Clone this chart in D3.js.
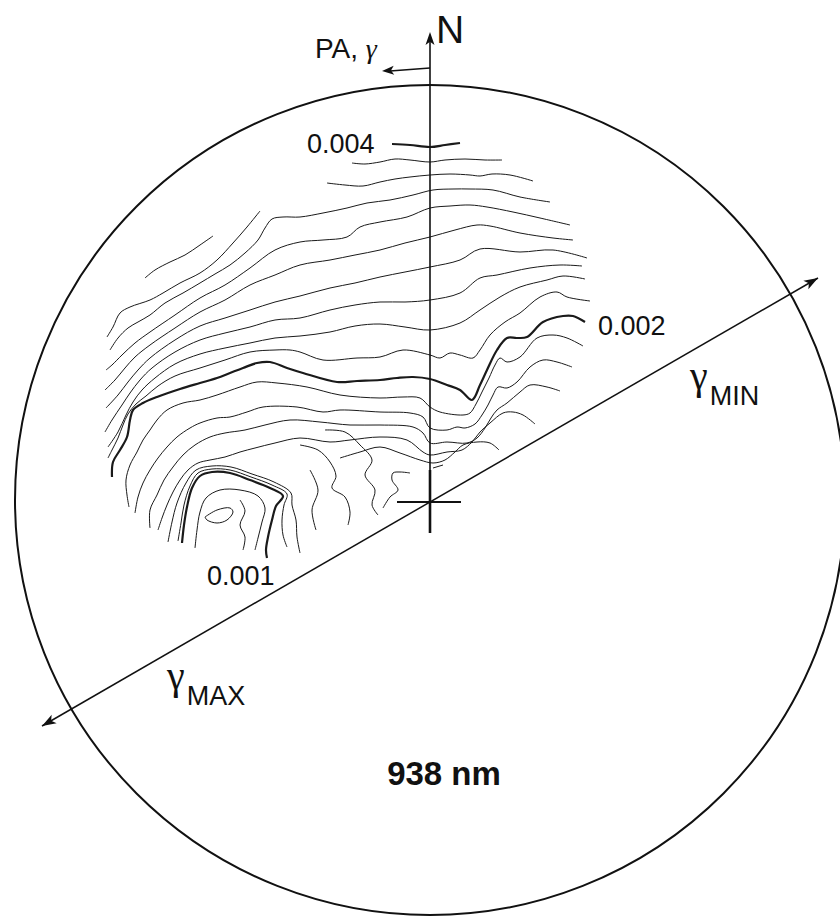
<!DOCTYPE html>
<html><head><meta charset="utf-8">
<script src="https://cdn.jsdelivr.net/npm/d3@7"></script>
<style>body{margin:0;background:#fff}svg{display:block}</style>
</head><body><div id="chart"></div>
<script>
// Polarization degree map around the star at 938 nm.
// Offsets from the star: dx (west +), dy (north +), in field units; field radius 41.5.
const fieldRadius = 41.5;
const fieldCenter = [0, 0.2];
const gammaAxisAngle = 30;      // degrees above the east-west line
const gammaAxisHalf = 44.8;
const labelledLevels = [0.001, 0.002, 0.004];
const wavelengthLabel = "938 nm";

// contour lines: level + polyline vertices [dx, dy]
const lvl004 = [[-3.8,35.8],[-2,35.7],[0,35.5],[1.5,35.7],[3,35.9]];
const lvl0038a = [[-7.8,33.9],[-6.5,33.8],[-5,34],[-3.5,34.3],[-2,34.2],[0,34],[1.5,34.2],[3.5,34.3],[5.5,34.2],[7.2,34.2]];
const lvl0038b = [[-21.7,26.6],[-23,25.7],[-24.5,24.7],[-26,24],[-27.5,23.2],[-28.5,22.4]];
const lvl0036a = [[-10.3,31.9],[-8.5,31.7],[-6.7,31.6],[-5,32],[-3.5,32.3],[-2,32.5],[0,32.7],[2,32.8],[4,32.7],[5,32.6],[6.2,32.8],[8,32.7],[10.3,32.1]];
const lvl0036b = [[-17,29.1],[-18.3,27.5],[-19.7,25.9],[-21.3,24.2],[-23,22.9],[-25,21.9],[-26.7,20.9],[-28,20.2],[-30,19.5],[-31,18.9],[-31.7,17.5],[-32.3,16.5]];
const lvl0034 = [[12,30],[9,30.5],[6.3,31.2],[4,31.3],[2.3,31.3],[0.3,31.2],[-1.7,30.7],[-4,30.2],[-6.3,29.9],[-8.3,29.4],[-10.7,28.9],[-13,28.5],[-14.7,28.5],[-15.8,28.3],[-16.5,27.4],[-17.2,26.2],[-18.5,24.9],[-20,23.7],[-21.5,22.8],[-23,21.9],[-24.7,20.9],[-26.5,19.9],[-28,18.7],[-29.2,18],[-30.2,17.4],[-31.2,16.4],[-32,15.2]];
const lvl0032 = [[14,27.7],[11,28.4],[8.3,29],[5.7,29.5],[4,29.7],[2,29.6],[0,29.4],[-2.3,28.5],[-5,28],[-7,27.5],[-8.3,26.5],[-10.7,26.2],[-13,26],[-15.5,25.2],[-18,23.4],[-20.5,21.7],[-23,20.4],[-25.5,18.7],[-28,17],[-29.5,15.9],[-30.8,14.7],[-31.8,13.7],[-32.4,13.2]];
const lvl0030 = [[14.3,26.2],[12.3,26.4],[9,26.9],[6,27.6],[4.7,27.7],[2.5,27.2],[0,26.5],[-2.5,25.9],[-5,25.2],[-7.5,24.7],[-10,24.2],[-13,23.7],[-15.5,22.7],[-18,21.7],[-20.5,20.2],[-23,19],[-25.5,17.4],[-28,15.7],[-29.5,14.5],[-30.5,13.4],[-31.5,12.2],[-32.5,11.2]];
const lvl0028 = [[15.7,24.4],[12.3,25.2],[9,25],[5,25.3],[3,24.2],[0,23.5],[-2.5,23],[-5,22.5],[-7.5,21.9],[-10,21.4],[-13,20.6],[-15.5,20],[-18,19.2],[-20.5,18.4],[-23,17.6],[-25.5,16.2],[-28,14.4],[-29.2,13.2],[-30.2,12],[-31.2,10.7],[-32.4,9.4]];
const lvl0026 = [[15.2,23.6],[13,23.7],[10,23.4],[6.7,22.7],[5,22.4],[3,20.9],[0,20.2],[-2.5,20],[-5,20],[-7.5,19.7],[-10,19.2],[-13,18.4],[-15.5,18.2],[-18,17.5],[-20.5,16.9],[-23,16.2],[-25.5,15],[-27.8,13.4],[-29,12.2],[-30,10.9],[-30.8,9.7],[-31.8,8.2],[-32.5,7]];
const lvl0024 = [[15.5,22.3],[13.3,22.6],[11.7,22.2],[9,21.5],[7,20.5],[5,19.2],[3,17.9],[0,17.2],[-2.5,17.5],[-5,17.8],[-7.5,17.6],[-10,17],[-13,16.6],[-15.5,16.4],[-18,15.9],[-20.5,15.4],[-23,14.8],[-25.5,13.8],[-27.5,12.4],[-28.8,11.2],[-29.7,10],[-30.4,8.7],[-31.2,7],[-32.2,5.5]];
const lvl0022 = [[16,20.1],[13.7,20.5],[12.7,21],[11,20.5],[9,18.9],[7.5,18],[6,16.7],[5,15.2],[4.3,14.4],[3,14.7],[2,14.9],[1,14.4],[0,14.7],[-2.7,15.2],[-5,14.5],[-7.3,14.4],[-10.7,14.2],[-13,15],[-14,15.2],[-15.5,15.2],[-18,15],[-20.5,14.2],[-23,13.4],[-25.5,12.6],[-27.2,11.6],[-28.4,10.6],[-29.4,9.8],[-30.2,8.8],[-30.7,7.7],[-31.2,6.4],[-31.8,5.2],[-32.2,4.4]];
const lvl002 = [[15.5,18],[14.3,18.6],[13.3,18.6],[11.3,18],[9.7,16.5],[8.7,16.4],[7.7,16.4],[6.7,15.2],[5.7,13.2],[5,11.7],[4.2,10.2],[3,11.2],[1.7,11.7],[0,12.3],[-1.7,12.5],[-3.3,12.4],[-5,12.2],[-7.3,12.1],[-9.3,12],[-12.7,12.9],[-14.3,13.4],[-16,14],[-17.3,13.9],[-18.7,13.4],[-20,12.9],[-21.3,12.4],[-23,11.9],[-25,11.3],[-27.3,10.5],[-28.7,9.9],[-29.7,9.2],[-30,8.2],[-30.3,6.5],[-31,5.2],[-31.7,4],[-31.8,2.5]];
const lvl0019 = [[15.3,15.6],[13.7,16.4],[12.3,16.7],[10.7,16.4],[9,14.5],[7.7,14],[7,14.4],[6.5,13.7],[5.9,12.4],[5.2,11],[4.6,9.8],[4,8.9],[3.3,8.7],[1,9],[0,9.5],[-1,10.4],[-2.7,10.5],[-5,10.4],[-9,10.7],[-12.3,11.5],[-15.3,11.9],[-17.3,12],[-19,11.5],[-21.3,10.7],[-23,10.2],[-24.7,9.9],[-26.3,9.2],[-27.3,8.2],[-28,7.2],[-28.7,6.2],[-29.3,5],[-30,3.7],[-30.4,2.2],[-30.3,0.7],[-30.1,-0.5]];
const lvl0018 = [[14.2,13.5],[12.7,14],[11.3,14.2],[10,13.5],[8.7,12],[7.7,11.4],[6.8,11.5],[6.3,10.7],[5.8,9.7],[5.2,8.7],[4.5,7.8],[3.5,7.4],[2.7,7.5],[1.7,7.2],[0,7.4],[-0.7,8.5],[-2,8.9],[-5,9],[-9,9.2],[-10.7,9],[-13.3,9.5],[-16.7,9.5],[-18.3,9],[-20,8.5],[-21.3,8.4],[-23,7.9],[-24,7.4],[-25.3,6.5],[-26.3,5.5],[-27.2,4.4],[-28,3.2],[-28.7,1.9],[-29.2,0.5],[-29.5,-1.1]];
const lvl0017 = [[13,11.1],[11.7,11.5],[10,11.7],[9,11],[7.7,9.9],[6.7,9.2],[6.1,8.4],[5.5,7.4],[4.7,6.4],[3.7,5.9],[1.7,6],[0,5.9],[-0.7,6.9],[-1.7,7.5],[-5,7.7],[-8,7.7],[-11,8],[-14,8.2],[-16.5,7.7],[-18.5,7.2],[-20.5,6.9],[-22,6.5],[-23.5,5.7],[-24.7,4.7],[-25.7,3.5],[-26.6,2.2],[-27.3,0.7],[-28,-0.8],[-28,-2.6]];
const lvl0016 = [[10.5,7.8],[9.3,8.7],[8.3,9],[7.3,8.9],[6,7.9],[5,7],[4.2,6],[3.2,5.2],[1.7,5],[0,4.7],[-0.7,5],[-2.3,6.2],[-5,6.5],[-8,6.2],[-10,6],[-13,6.4],[-15.5,5.9],[-17.5,5.4],[-19,5],[-20.5,4.5],[-22,4.2],[-23.2,3.9],[-24.2,3.2],[-25,2.2],[-25.7,1],[-26.3,-0.3],[-26.8,-1.6],[-27.2,-2.8]];
const lvl0015 = [[6.9,5.2],[6,5.9],[4.7,6],[3.3,5.7],[2.5,5],[1.5,4.2],[0.3,3.9],[-1,4.2],[-3,4.9],[-5,5.5],[-7,5],[-9,4.4]];
const lvl0014a = [[-13,5.7],[-11.2,5.2],[-10,4],[-9.4,2.6],[-9.8,1.4],[-8.5,0.5],[-8,-1],[-8.2,-2.3]];
const lvl0014b = [[-10.5,7.2],[-8.5,7],[-7,5.7],[-5.8,4.2],[-6.5,2.7],[-5.5,1.2],[-5.8,-0.3],[-5.2,-1.3]];
const lvl0014c = [[-2,2.9],[-3,3],[-3.7,2.9],[-3.8,2.2],[-3.2,1.2],[-4,0.5],[-4.7,-0.6]];
const lvl0014d = [[0.3,3.4],[1.3,3.7]];
const lvl0013 = [[-12,3.2],[-11.2,1.2],[-11.8,-0.8],[-11.4,-2.8]];
const lvl0012 = [[-26.2,-4],[-25.8,-2],[-25.3,-0.1],[-24.4,1.9],[-23.4,3.2],[-21.8,3.6],[-19.9,3.5],[-17.8,2.8],[-15.6,2],[-13.9,0.9],[-13.8,-0.3],[-13.4,-1.8],[-13.3,-3.5],[-13,-5.1]];
const lvl0011 = [[-25.2,-3.9],[-24.9,-2.1],[-24.6,-0.3],[-24,1.6],[-23.2,2.9],[-21.8,3.3],[-20,3.2],[-17.9,2.5],[-15.8,1.7],[-14.3,0.8],[-14.6,-0.3],[-14.8,-1.8],[-14.7,-3.3],[-14.3,-4.5]];
const lvl001 = [[-24.8,-4.1],[-24.6,-2.3],[-24.3,-0.5],[-23.8,1.4],[-23,2.6],[-21.8,3],[-20,2.9],[-18,2.2],[-16,1.4],[-14.7,0.6],[-15.4,-0.4],[-15.8,-1.8],[-16.2,-3.5],[-16.4,-4.8],[-16.3,-5.6]];
const lvl0009 = [[-23.5,-4.6],[-23.3,-2.8],[-23,-1],[-22.4,0.4],[-21,1.2],[-19,1.2],[-17.2,0.6],[-16.5,-0.6],[-16.8,-2],[-17.2,-3.6],[-17.5,-4.8]];
const lvl0008a = [[-22.5,-1.5],[-21.3,-0.8],[-20,-0.6],[-19.7,-1],[-20.3,-1.8],[-21.3,-2.1],[-22.3,-1.8],[-22.5,-1.5]];
const lvl0008b = [[-19,0.2],[-18.5,-0.9],[-19,-2.3],[-18.5,-3.5],[-18.7,-4.8]];

const contours = [
  {level: 0.004, pts: lvl004}, {level: 0.0038, pts: lvl0038a}, {level: 0.0038, pts: lvl0038b},
  {level: 0.0036, pts: lvl0036a}, {level: 0.0036, pts: lvl0036b}, {level: 0.0034, pts: lvl0034},
  {level: 0.0032, pts: lvl0032}, {level: 0.003, pts: lvl0030}, {level: 0.0028, pts: lvl0028},
  {level: 0.0026, pts: lvl0026}, {level: 0.0024, pts: lvl0024}, {level: 0.0022, pts: lvl0022},
  {level: 0.002, pts: lvl002}, {level: 0.0019, pts: lvl0019}, {level: 0.0018, pts: lvl0018},
  {level: 0.0017, pts: lvl0017}, {level: 0.0016, pts: lvl0016}, {level: 0.0015, pts: lvl0015},
  {level: 0.0014, pts: lvl0014a}, {level: 0.0014, pts: lvl0014b}, {level: 0.0014, pts: lvl0014c},
  {level: 0.0014, pts: lvl0014d}, {level: 0.0013, pts: lvl0013}, {level: 0.0012, pts: lvl0012},
  {level: 0.0011, pts: lvl0011}, {level: 0.001, pts: lvl001}, {level: 0.0009, pts: lvl0009},
  {level: 0.0008, pts: lvl0008a}, {level: 0.0008, pts: lvl0008b}
];
// level labels, anchored at field offsets
const levelLabels = [
  {text: "0.004", at: [-12.3, 34.9]},
  {text: "0.002", at: [16.8, 16.7]},
  {text: "0.001", at: [-22.3, -8.3]}
];

const W = 840, H = 916;
const x = d3.scaleLinear().domain([-43, 41]).range([0, W]);
const y = d3.scaleLinear().domain([50.2, -41.4]).range([0, H]);
const unit = x(1) - x(0);

const svg = d3.select("#chart").append("svg").attr("width", W).attr("height", H)
  .style("font-family", "'Liberation Sans', Arial, sans-serif");

// field circle
svg.append("circle")
  .attr("cx", x(fieldCenter[0])).attr("cy", y(fieldCenter[1]))
  .attr("r", fieldRadius * unit)
  .attr("fill", "none").attr("stroke", "#111").attr("stroke-width", 2);

// contour lines
const line = d3.line().x(d => x(d[0])).y(d => y(d[1])).curve(d3.curveCatmullRom.alpha(0.5));
svg.append("g").selectAll("path").data(contours).join("path")
  .attr("d", d => line(d.pts))
  .attr("fill", "none").attr("stroke", "#1a1a1a")
  .attr("stroke-linejoin", "round")
  .attr("stroke-width", d => labelledLevels.includes(d.level) ? 2.2 : 1);

svg.append("g").selectAll("text").data(levelLabels).join("text")
  .attr("x", d => x(d.at[0])).attr("y", d => y(d.at[1]))
  .attr("font-size", 27).attr("fill", "#111").text(d => d.text);

function arrowHead(tip, from, len, half) {
  const dx = tip[0] - from[0], dy = tip[1] - from[1];
  const l = Math.hypot(dx, dy), ux = dx / l, uy = dy / l;
  const bx = tip[0] - ux * len, by = tip[1] - uy * len;
  svg.append("path")
    .attr("d", `M${tip[0]},${tip[1]}L${bx - uy * half},${by + ux * half}L${bx + ux*len*0.25},${by + uy*len*0.25}L${bx + uy * half},${by - ux * half}Z`)
    .attr("fill", "#111");
}

// north axis through the star
const star = [x(0), y(0)];
const nTop = [x(0), y(47.0)];
svg.append("line").attr("x1", star[0]).attr("y1", y(-3.1)).attr("x2", nTop[0]).attr("y2", nTop[1] + 6)
  .attr("stroke", "#111").attr("stroke-width", 1.6);
svg.append("line").attr("x1", star[0]).attr("y1", y(-3.1)).attr("x2", star[0]).attr("y2", y(3.2))
  .attr("stroke", "#111").attr("stroke-width", 2.6);
arrowHead(nTop, [nTop[0], nTop[1] + 20], 13, 4.5);
svg.append("line").attr("x1", x(-3.3)).attr("y1", star[1]).attr("x2", x(3.1)).attr("y2", star[1])
  .attr("stroke", "#111").attr("stroke-width", 2.2);
svg.append("text").attr("x", x(0.6)).attr("y", y(45.9)).attr("font-size", 39).attr("fill", "#111").text("N");

// position angle arrow
const paStart = [x(0), y(43.4)], paTip = [x(-4.8), y(43.1)];
svg.append("line").attr("x1", paStart[0]).attr("y1", paStart[1]).attr("x2", paTip[0] + 8).attr("y2", paTip[1])
  .attr("stroke", "#111").attr("stroke-width", 1.5);
arrowHead(paTip, paStart, 12, 4.5);
const paText = svg.append("text").attr("x", x(-11.5)).attr("y", y(44.4)).attr("font-size", 28).attr("fill", "#111");
paText.append("tspan").text("PA, ");
paText.append("tspan").attr("font-family", "'Liberation Serif', serif").attr("font-style", "italic").text("γ");

// gamma axis
const a = gammaAxisAngle * Math.PI / 180;
const gEnd = [x(gammaAxisHalf * Math.cos(a)), y(gammaAxisHalf * Math.sin(a))];
const gStart = [x(-gammaAxisHalf * Math.cos(a)), y(-gammaAxisHalf * Math.sin(a))];
svg.append("line").attr("x1", gStart[0]).attr("y1", gStart[1]).attr("x2", gEnd[0]).attr("y2", gEnd[1])
  .attr("stroke", "#111").attr("stroke-width", 1.5);
arrowHead(gEnd, star, 14, 5);
arrowHead(gStart, star, 14, 5);

function gammaLabel(px, py, sub) {
  const t = svg.append("text").attr("x", px).attr("y", py).attr("fill", "#111");
  t.append("tspan").attr("font-size", 40).attr("font-family", "'Liberation Serif', serif").text("γ");
  t.append("tspan").attr("font-size", 27).attr("dx", 2).attr("dy", 16).text(sub);
}
gammaLabel(x(-26.3), y(-18.7), "MAX");
gammaLabel(x(26.0), y(11.3), "MIN");

svg.append("text").attr("x", x(1.4)).attr("y", y(-28.3)).attr("text-anchor", "middle")
  .attr("font-size", 33).attr("font-weight", "bold").attr("fill", "#111").text(wavelengthLabel);
</script></body></html>
